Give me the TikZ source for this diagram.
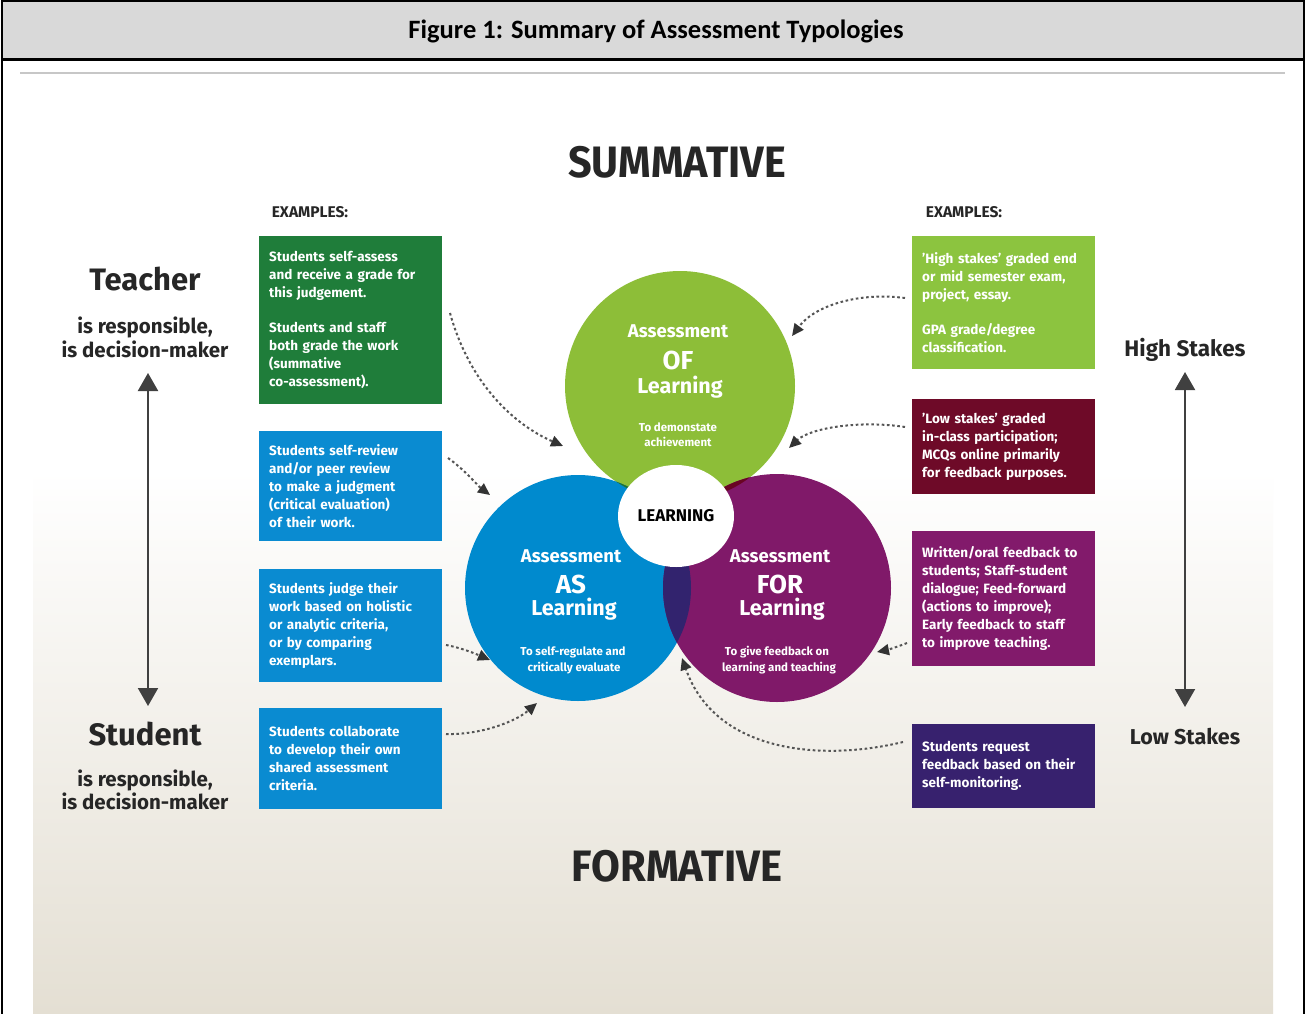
\documentclass[tikz,border=0pt]{standalone}
\usepackage{fontspec}
\setmainfont{Fira Sans}
\newfontfamily\carlitofont{Carlito}
\usetikzlibrary{arrows.meta,calc,shapes.geometric}
\definecolor{hdrgray}{HTML}{D9D9D9}
\definecolor{beige}{HTML}{E4DFD3}
\definecolor{boxdkgreen}{HTML}{1F7D3A}
\definecolor{boxblue}{HTML}{0A8BD1}
\definecolor{boxltgreen}{HTML}{8CC43F}
\definecolor{boxmaroon}{HTML}{6E0A28}
\definecolor{boxpurple}{HTML}{821A6B}
\definecolor{boxindigo}{HTML}{37216E}
\definecolor{ofgreen}{HTML}{8DBE38}
\definecolor{asblue}{HTML}{008ACE}
\definecolor{forpurple}{HTML}{801969}
\definecolor{ovgreen}{HTML}{23732F}
\definecolor{ovmaroon}{HTML}{690523}
\definecolor{ovindigo}{HTML}{32236E}
\definecolor{arrowgray}{HTML}{555555}
\definecolor{tipgray}{HTML}{333333}
\newcommand\myfs[2]{\fontsize{#1}{#2}\selectfont}
\begin{document}
\begin{tikzpicture}[x=1pt,y=-1pt,
  exbox/.style={rectangle, anchor=north west, inner xsep=10pt, inner ysep=0pt,
    text width=163pt, align=left, text=white, font=\bfseries\myfs{13.5}{18},
    minimum height=#1},
  ctext/.style={anchor=base, text=white, inner sep=0pt, font=\bfseries\myfs{#1}{#1}},
  sidetext/.style={anchor=base, text=black!85, inner sep=0pt, font=\bfseries\myfs{#1}{#1}},
  dasharrow/.style={draw=arrowgray, line width=2pt, dash pattern=on 2.6pt off 2.6pt,
    -{Triangle[length=12pt,width=11pt,color=tipgray]}},
  scalearrow/.style={draw=black!75, line width=2pt,
    {Triangle[length=18pt,width=20pt]}-{Triangle[length=18pt,width=20pt]}}
]
\useasboundingbox (0,0) rectangle (1306,1014);
% background
\fill[white] (0,0) rectangle (1306,1014);
\shade[top color=white, bottom color=beige] (33,470) rectangle (1273,1014);
% header
\fill[hdrgray] (2,1) rectangle (1304,60);
\draw[black, line width=3pt] (2,1) -- (1304,1);
\draw[black, line width=3pt] (2,60) -- (1304,60);
\draw[black, line width=2.5pt] (2,0) -- (2,1014);
\draw[black, line width=2.5pt] (1304,0) -- (1304,1014);
\node[font=\carlitofont\bfseries\myfs{26.5}{26.5}, inner sep=0pt] (title) at (656,31) {Figure 1: Summary of Assessment Typologies};
\draw[black!22, line width=2pt] (20,73) -- (1285,73);

% big headings
\node[sidetext=44] (summ) at (677,177) {\scalebox{0.94}[1]{SUMMATIVE}};
\node[sidetext=44] (form) at (677,881) {\scalebox{0.95}[1]{FORMATIVE}};

\node[sidetext=15.5] (exl) at (310,217) {EXAMPLES:};
\node[sidetext=15.5] (exr) at (964,217) {EXAMPLES:};

% left side
\node[sidetext=31] (teacher) at (145,290) {Teacher};
\node[sidetext=20.5] (tr1) at (145,333) {is responsible,};
\node[sidetext=20.5] (tr2) at (145,357) {is decision-maker};
\node[sidetext=31] (student) at (145,745) {Student};
\node[sidetext=20.5] (sr1) at (145,786) {is responsible,};
\node[sidetext=20.5] (sr2) at (145,809) {is decision-maker};
\coordinate (la1) at (148,373);
\coordinate (la2) at (148,706);
\draw[scalearrow] (la1) -- (la2);

% right side
\node[sidetext=22.5] (high) at (1185,356) {High Stakes};
\node[sidetext=21.5] (low) at (1185,744) {Low Stakes};
\coordinate (ra1) at (1185,372);
\coordinate (ra2) at (1185,707);
\draw[scalearrow] (ra1) -- (ra2);

% example boxes left
\node[exbox=168, fill=boxdkgreen] (l1) at (259,236) {Students self-assess\\and receive a grade for\\this judgement.\\[17pt]Students and staff\\both grade the work\\(summative\\co-assessment).};
\node[exbox=110, fill=boxblue] (l2) at (259,431) {Students self-review\\and/or peer review\\to make a judgment\\(critical evaluation)\\of their work.};
\node[exbox=113, fill=boxblue] (l3) at (259,569) {Students judge their\\work based on holistic\\or analytic criteria,\\or by comparing\\exemplars.};
\node[exbox=101, fill=boxblue] (l4) at (259,708) {Students collaborate\\to develop their own\\shared assessment\\criteria.};
% example boxes right
\node[exbox=133, fill=boxltgreen] (r1) at (912,236) {'High stakes' graded end\\or mid semester exam,\\project, essay.\\[17pt]GPA grade/degree\\classification.};
\node[exbox=95, fill=boxmaroon] (r2) at (912,399) {'Low stakes' graded\\in-class participation;\\MCQs online primarily\\for feedback purposes.};
\node[exbox=135, fill=boxpurple] (r3) at (912,531) {Written/oral feedback to\\students; Staff-student\\dialogue; Feed-forward\\(actions to improve);\\Early feedback to staff\\to improve teaching.};
\node[exbox=84, fill=boxindigo] (r4) at (912,724) {Students request\\feedback based on their\\self-monitoring.};

% circles
\node[circle, fill=ofgreen, minimum size=230pt, inner sep=0pt] (cof) at (680,386) {};
\node[circle, fill=asblue, minimum size=226pt, inner sep=0pt] (cas) at (578,588) {};
\node[circle, fill=forpurple, minimum size=228pt, inner sep=0pt] (cfor) at (777,588) {};
\begin{scope}
  \clip (680,386) circle[radius=115pt];
  \fill[ovgreen] (578,588) circle[radius=113pt];
\end{scope}
\begin{scope}
  \clip (680,386) circle[radius=115pt];
  \fill[ovmaroon] (777,588) circle[radius=114pt];
\end{scope}
\begin{scope}
  \clip (578,588) circle[radius=113pt];
  \fill[ovindigo] (777,588) circle[radius=114pt];
\end{scope}
\node[ellipse, fill=white, minimum width=116pt, minimum height=102pt, inner sep=0pt,
  font=\bfseries\myfs{17}{17}, text=black] (learn) at (676,516) {LEARNING};

% circle texts
\node[ctext=18.5] (of1) at (678,337) {Assessment};
\node[ctext=26] (of2) at (678,369) {OF};
\node[ctext=21.5] (of3) at (680,393) {Learning};
\node[ctext=11.5] (of4) at (678,431) {To demonstate};
\node[ctext=11.5] (of5) at (678,446) {achievement};

\node[ctext=18.5] (as1) at (571,562) {Assessment};
\node[ctext=26] (as2) at (571,593) {AS};
\node[ctext=21.5] (as3) at (574,615) {Learning};
\node[ctext=11.5] (as4) at (573,655) {To self-regulate and};
\node[ctext=11.5] (as5) at (574,671) {critically evaluate};

\node[ctext=18.5] (for1) at (780,562) {Assessment};
\node[ctext=26] (for2) at (780,593) {FOR};
\node[ctext=21.5] (for3) at (782,615) {Learning};
\node[ctext=11.5] (for4) at (777,655) {To give feedback on};
\node[ctext=11.5] (for5) at (779,671) {learning and teaching};

% dashed arrows
\coordinate (s1) at (450,313); \coordinate (e1) at (563,446);
\coordinate (s2) at (448,458); \coordinate (e2) at (490,495);
\coordinate (s3) at (446,645); \coordinate (e3) at (490,660);
\coordinate (s4) at (446,734); \coordinate (e4) at (537,703);
\coordinate (s5) at (905,298); \coordinate (e5) at (792,336);
\coordinate (s6) at (905,427); \coordinate (e6) at (789,448);
\coordinate (s7) at (907,643); \coordinate (e7) at (877,652);
\coordinate (s8) at (903,742); \coordinate (e8) at (682,658);
\draw[dasharrow] (s1) .. controls (470,385) and (515,425) .. (e1);
\draw[dasharrow] (s2) .. controls (465,470) and (478,486) .. (e2);
\draw[dasharrow] (s3) .. controls (462,648) and (476,654) .. (e3);
\draw[dasharrow] (s4) .. controls (480,735) and (515,722) .. (e4);
\draw[dasharrow] (s5) .. controls (860,292) and (815,305) .. (e5);
\draw[dasharrow] (s6) .. controls (860,420) and (810,428) .. (e6);
\draw[dasharrow] (s7) .. controls (897,647) and (887,650) .. (e7);
\draw[dasharrow] (s8) .. controls (820,762) and (715,752) .. (e8);
\end{tikzpicture}
\end{document}
